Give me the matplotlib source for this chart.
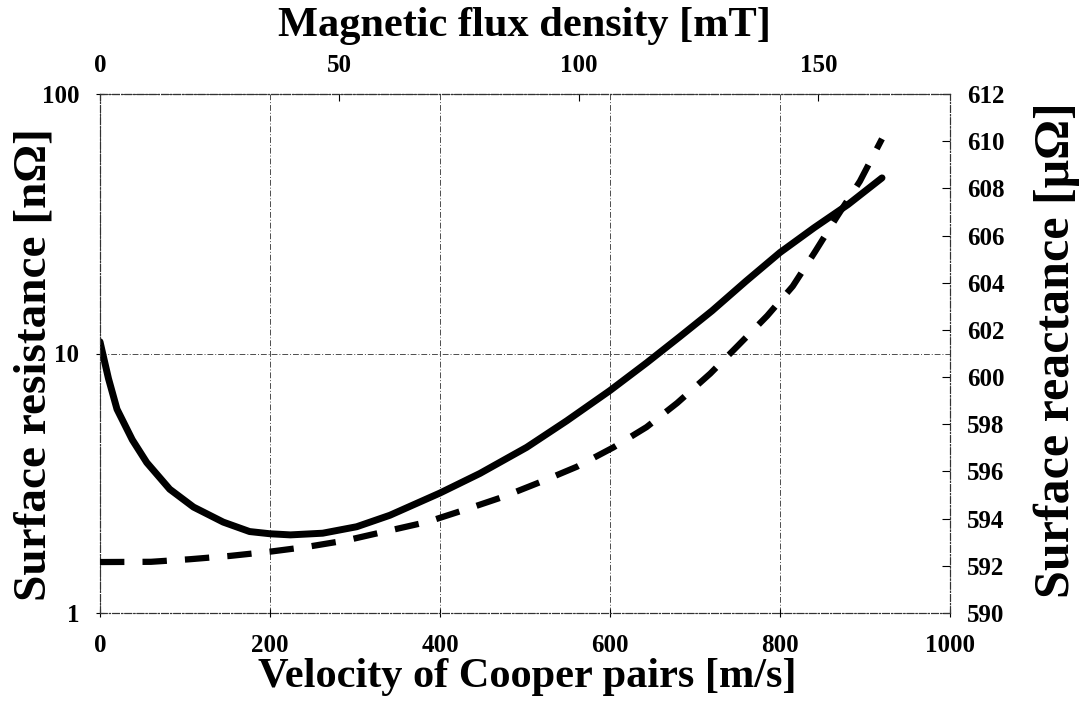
"""
Surface resistance and surface reactance versus the velocity of Cooper pairs,
with the matching magnetic flux density on the top axis.
"""

import matplotlib
matplotlib.use("Agg")
import matplotlib.pyplot as plt

# Surface resistance [nOhm] (solid line, left log axis)
velocityRs = [0, 10, 20, 38, 55, 82, 110, 145, 176, 200, 224, 262, 302, 341,
              400, 447, 502, 549, 600, 643, 682, 720, 760, 800, 840, 880, 920]
resistance = [11.1, 8.0, 6.1, 4.65, 3.8, 3.0, 2.56, 2.24, 2.06, 2.02, 2.0, 2.03,
              2.15, 2.38, 2.9, 3.45, 4.35, 5.5, 7.2, 9.2, 11.6, 14.6, 19.0,
              24.5, 30.5, 37.5, 47.5]

# Surface reactance [uOhm] (dashed line, right linear axis)
velocityXs = [0, 60, 106, 153, 200, 243, 290, 341, 385, 427, 474, 518, 561,
              604, 643, 679, 718, 751, 785, 815, 841, 867, 894, 920]
reactance = [592.16, 592.17, 592.28, 592.42, 592.6, 592.8, 593.08, 593.5,
             593.86, 594.35, 594.92, 595.55, 596.2, 597.02, 597.88, 598.9,
             600.15, 601.35, 602.6, 603.85, 605.3, 606.8, 608.3, 610.1]

velocityTicks = [0, 200, 400, 600, 800, 1000]
resistanceTicks = [1, 10, 100]
reactanceTicks = list(range(590, 613, 2))
fieldTicks = [0, 50, 100, 150]

# 1000 m/s corresponds to about 177.5 mT
mTPerVelocity = 177.5 / 1000.0

plt.rcParams['font.family'] = ['Liberation Serif', 'DejaVu Serif']
plt.rcParams['font.weight'] = 'bold'

tickSize = 18
labelSize = 30.5
gridStyle = (0, (6, 2, 1, 2))

fig = plt.figure(figsize=(10.85, 7.03), dpi=100)
ax = fig.add_axes([100 / 1085, 1 - 613 / 703, 850 / 1085, 519 / 703])

ax.plot(velocityRs, resistance, color='black', linewidth=5.0,
        solid_capstyle='round', solid_joinstyle='round', zorder=3)
ax.set_yscale('log')
ax.set_xlim(0, 1000)
ax.set_ylim(1, 100)
ax.set_xticks(velocityTicks)
ax.set_xticklabels([str(t) for t in velocityTicks])
ax.set_yticks(resistanceTicks)
ax.set_yticklabels([str(t) for t in resistanceTicks])
ax.yaxis.set_minor_locator(matplotlib.ticker.NullLocator())
ax.grid(True, color='0.3', linewidth=0.7, linestyle=gridStyle)
ax.tick_params(axis='both', labelsize=tickSize, direction='inout', length=6,
               width=0.8, pad=12)
ax.set_xlabel('Velocity of Cooper pairs [m/s]', fontsize=labelSize,
              fontweight='bold', va='center')
ax.xaxis.set_label_coords(527 / 1085, 1 - 677 / 703, transform=fig.transFigure)
# the scanned figure is stretched vertically, so the upright labels run longer
ax.set_ylabel('Surface resistance [n\u03a9]', fontsize=34,
              fontweight='bold', va='center')
ax.yaxis.set_label_coords(35 / 1085, 1 - 365 / 703, transform=fig.transFigure)

# Right axis: surface reactance
ax2 = ax.twinx()
ax2.plot(velocityXs, reactance, color='black', linewidth=4.5,
         dashes=(3.9, 2.9), dash_capstyle='butt', zorder=3)
ax2.set_ylim(590, 612)
ax2.set_yticks(reactanceTicks)
ax2.set_yticklabels([str(t) for t in reactanceTicks])
ax2.tick_params(axis='y', labelsize=tickSize, direction='in', length=6,
                width=0.8, pad=12)
ax2.set_ylabel('Surface reactance [\u03bc\u03a9]', fontsize=36,
               fontweight='bold', va='center', rotation=90)
ax2.yaxis.set_label_coords(1057 / 1085, 1 - 350 / 703, transform=fig.transFigure)

# Top axis: magnetic flux density
def velToField(v):
    return v * mTPerVelocity

def fieldToVel(b):
    return b / mTPerVelocity

topAx = ax.secondary_xaxis('top', functions=(velToField, fieldToVel))
topAx.set_xticks(fieldTicks)
topAx.set_xticklabels([str(t) for t in fieldTicks])
topAx.tick_params(axis='x', labelsize=tickSize, direction='in', length=5,
                  width=0.8, pad=12)
topAx.set_xlabel('Magnetic flux density [mT]', fontsize=labelSize,
                 fontweight='bold', va='center')
topAx.xaxis.set_label_coords(524 / 1085, 1 - 26 / 703, transform=fig.transFigure)

# Frame drawn in the same light dash-dot style as the grid
for a in (ax, ax2):
    for side in a.spines.values():
        side.set_linewidth(0.8)
        side.set_color('0.2')
        side.set_linestyle(gridStyle)
topAx.spines['top'].set_linewidth(0.8)
topAx.spines['top'].set_color('0.2')
topAx.spines['top'].set_linestyle(gridStyle)

fig.savefig('out.png', dpi=100)
